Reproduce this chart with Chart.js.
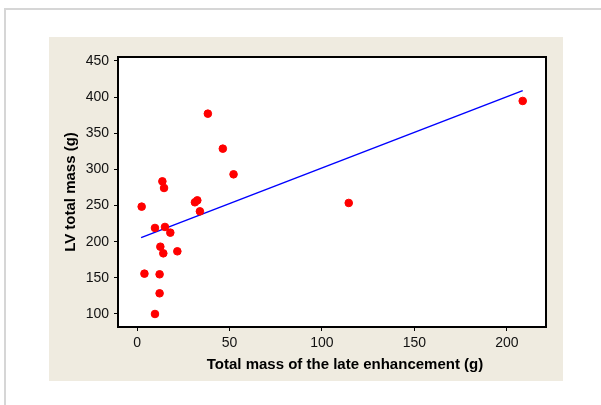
<!DOCTYPE html>
<html><head><meta charset="utf-8">
<script src="https://cdn.jsdelivr.net/npm/chart.js@4"></script>
<style>
html,body{margin:0;padding:0;background:#fff;}
#wrap{position:relative;width:601px;height:405px;}
#frame{position:absolute;left:4px;top:8px;width:597px;height:397px;border-left:2px solid #d6d6d6;border-top:2px solid #d6d6d6;box-sizing:border-box;}
#panel{position:absolute;left:49px;top:37px;width:514px;height:344px;background:#efebe0;}
canvas{position:absolute;left:0;top:0;}
</style></head>
<body>
<div id="wrap"><div id="frame"></div><div id="panel"></div><canvas id="c" width="601" height="405"></canvas></div>
<script>
const lateEnhancement = [2.5, 4.0, 9.7, 9.7, 12.2, 12.2, 12.6, 13.7, 14.6, 14.2, 15.1, 18.0, 21.8, 31.3, 32.6, 34.0, 38.3, 46.4, 52.2, 114.5, 208.6];
const lvMass = [248.5, 155.8, 219, 100, 154.9, 128.6, 193.1, 283.5, 274.3, 183.9, 220.4, 212.5, 186.7, 254.5, 257.2, 242, 377.1, 328.7, 293.2, 253.6, 394.7];
const fitX = [2.2, 208.6];
const fitY = [205.6, 409];
const xTicks = [0, 50, 100, 150, 200];
const yTicks = [100, 150, 200, 250, 300, 350, 400, 450];
const xTitle = 'Total mass of the late enhancement (g)';
const yTitle = 'LV total mass (g)';

const FONT = "'Liberation Sans', Arial, sans-serif";

const framePlugin = {
  id: 'framePlugin',
  beforeDraw(chart) {
    const {ctx, chartArea: a} = chart;
    ctx.save();
    ctx.fillStyle = '#ffffff';
    ctx.fillRect(a.left, a.top, a.right - a.left, a.bottom - a.top);
    ctx.restore();
  },
  afterDraw(chart) {
    const {ctx, chartArea: a} = chart;
    ctx.save();
    ctx.strokeStyle = '#000';
    ctx.lineWidth = 2;
    ctx.strokeRect(a.left, a.top, a.right - a.left, a.bottom - a.top);
    ctx.fillStyle = '#000';
    ctx.font = "bold 15px " + FONT;
    ctx.textAlign = 'center';
    ctx.textBaseline = 'middle';
    ctx.fillText(xTitle, 345, 365);
    ctx.restore();
  }
};

new Chart(document.getElementById('c'), {
  type: 'scatter',
  data: {
    datasets: [
      {
        data: lateEnhancement.map((x, i) => ({x, y: lvMass[i]})),
        backgroundColor: '#ff0000',
        borderColor: '#ff0000',
        pointRadius: 3.8,
        pointHoverRadius: 3.8,
        order: 1
      },
      {
        type: 'line',
        data: fitX.map((x, i) => ({x, y: fitY[i]})),
        borderColor: '#0000ff',
        borderWidth: 1.5,
        pointRadius: 0,
        fill: false,
        order: 2
      }
    ]
  },
  options: {
    responsive: false,
    animation: false,
    events: [],
    layout: {padding: {left: 49, right: 55, top: 57, bottom: 24}},
    plugins: {legend: {display: false}, tooltip: {enabled: false}},
    scales: {
      x: {
        type: 'linear',
        min: -10.3,
        max: 221.2,
        afterBuildTicks: s => { s.ticks = xTicks.map(v => ({value: v})); },
        afterFit: s => { s.height = 54; s.paddingLeft = 0; s.paddingRight = 0; },
        grid: {drawOnChartArea: false, color: '#000', tickLength: 4, tickWidth: 1},
        border: {display: false},
        ticks: {color: '#111', font: {family: FONT, size: 14}, padding: 4, maxRotation: 0, autoSkip: false},
        title: {display: false}
      },
      y: {
        type: 'linear',
        min: 82,
        max: 455.5,
        afterBuildTicks: s => { s.ticks = yTicks.map(v => ({value: v})); },
        afterFit: s => { s.width = 69; s.paddingTop = 0; s.paddingBottom = 0; },
        grid: {drawOnChartArea: false, color: '#000', tickLength: 4, tickWidth: 1},
        border: {display: false},
        ticks: {color: '#111', font: {family: FONT, size: 14}, padding: 5, autoSkip: false},
        title: {display: true, text: yTitle, color: '#000', font: {family: FONT, size: 15, weight: 'bold'}, padding: {top: 13, bottom: 4}}
      }
    }
  },
  plugins: [framePlugin]
});
</script>
</body></html>
